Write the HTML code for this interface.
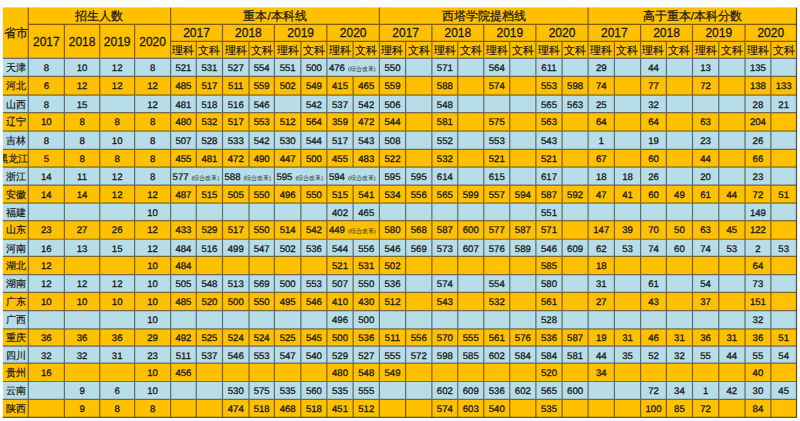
<!DOCTYPE html>
<html><head><meta charset="utf-8"><style>
html,body{margin:0;padding:0;background:#fff;}
body{width:800px;height:421px;position:relative;overflow:hidden;font-family:"Liberation Sans",sans-serif;color:#1a1a1a;}
#w{position:absolute;left:0;top:0;width:800px;height:421px;}
#g,#g2{position:absolute;left:0;top:0;}
#w>div{position:absolute;}
.l{background:rgba(0,0,0,0.45);box-shadow:0 0 0 1px rgba(0,0,0,0.16);}
.t{white-space:nowrap;overflow:hidden;}
.hs{font-size:11.5px;font-weight:500;-webkit-text-stroke:0.25px #1a1a1a;}
.hy{font-size:12px;-webkit-text-stroke:0.3px #1a1a1a;}
.hp{font-size:12px;font-weight:500;-webkit-text-stroke:0.25px #1a1a1a;}
.hk{font-size:11px;font-weight:500;-webkit-text-stroke:0.2px #1a1a1a;}
.pv{font-size:10px;font-weight:500;-webkit-text-stroke:0.2px #1a1a1a;}
.n{font-size:9.6px;text-rendering:geometricPrecision;-webkit-text-stroke:0.3px #1a1a1a;}
.nz{font-size:10px;}
.zn{font-size:9.6px;text-rendering:geometricPrecision;-webkit-text-stroke:0.3px #1a1a1a;padding-left:2px;}
.zg{font-size:5.5px;padding-left:3px;color:#222;}
</style></head><body><svg id="g" width="800" height="421"><rect x="2.85" y="7.4" width="793.65" height="50.9" fill="#FFC000"/><rect x="2.85" y="58.3" width="793.65" height="18.10000000000001" fill="#B7DEE8"/><rect x="2.85" y="76.4" width="793.65" height="18.69999999999999" fill="#FFC000"/><rect x="2.85" y="95.1" width="793.65" height="17.5" fill="#B7DEE8"/><rect x="2.85" y="112.6" width="793.65" height="18.599999999999994" fill="#FFC000"/><rect x="2.85" y="131.2" width="793.65" height="18.100000000000023" fill="#B7DEE8"/><rect x="2.85" y="149.3" width="793.65" height="17.799999999999983" fill="#FFC000"/><rect x="2.85" y="167.1" width="793.65" height="18.0" fill="#B7DEE8"/><rect x="2.85" y="185.1" width="793.65" height="18.0" fill="#FFC000"/><rect x="2.85" y="203.1" width="793.65" height="17.5" fill="#B7DEE8"/><rect x="2.85" y="220.6" width="793.65" height="18.659999999999997" fill="#FFC000"/><rect x="2.85" y="239.26" width="793.65" height="17.04000000000002" fill="#B7DEE8"/><rect x="2.85" y="256.3" width="793.65" height="18.30000000000001" fill="#FFC000"/><rect x="2.85" y="274.6" width="793.65" height="17.799999999999955" fill="#B7DEE8"/><rect x="2.85" y="292.4" width="793.65" height="18.200000000000045" fill="#FFC000"/><rect x="2.85" y="310.6" width="793.65" height="18.19999999999999" fill="#B7DEE8"/><rect x="2.85" y="328.8" width="793.65" height="17.30000000000001" fill="#FFC000"/><rect x="2.85" y="346.1" width="793.65" height="17.0" fill="#B7DEE8"/><rect x="2.85" y="363.1" width="793.65" height="18.399999999999977" fill="#FFC000"/><rect x="2.85" y="381.5" width="793.65" height="17.899999999999977" fill="#B7DEE8"/><rect x="2.85" y="399.4" width="793.65" height="17.900000000000034" fill="#FFC000"/></svg><div id="w">
<div class="t hp" style="left:3.00px;top:8.00px;width:25.30px;height:51.00px;line-height:51.00px;text-align:center;">省市</div>
<div class="t hs" style="left:28.30px;top:8.00px;width:142.30px;height:17.00px;line-height:17.00px;text-align:center;">招生人数</div>
<div class="t hs" style="left:170.60px;top:8.00px;width:208.80px;height:17.00px;line-height:17.00px;text-align:center;">重本/本科线</div>
<div class="t hs" style="left:379.40px;top:8.00px;width:208.70px;height:17.00px;line-height:17.00px;text-align:center;">西塔学院提档线</div>
<div class="t hs" style="left:588.10px;top:8.00px;width:208.40px;height:17.00px;line-height:17.00px;text-align:center;">高于重本/本科分数</div>
<div class="t hy" style="left:28.30px;top:24.50px;width:36.10px;height:34.00px;line-height:34.00px;text-align:center;">2017</div>
<div class="t hy" style="left:64.40px;top:24.50px;width:35.35px;height:34.00px;line-height:34.00px;text-align:center;">2018</div>
<div class="t hy" style="left:99.75px;top:24.50px;width:34.85px;height:34.00px;line-height:34.00px;text-align:center;">2019</div>
<div class="t hy" style="left:134.60px;top:24.50px;width:36.00px;height:34.00px;line-height:34.00px;text-align:center;">2020</div>
<div class="t hy" style="left:170.60px;top:24.50px;width:51.90px;height:17.00px;line-height:17.00px;text-align:center;">2017</div>
<div class="t hk" style="left:170.60px;top:42.00px;width:25.70px;height:17.00px;line-height:17.00px;text-align:center;">理科</div>
<div class="t hk" style="left:196.30px;top:42.00px;width:26.20px;height:17.00px;line-height:17.00px;text-align:center;">文科</div>
<div class="t hy" style="left:222.50px;top:24.50px;width:51.90px;height:17.00px;line-height:17.00px;text-align:center;">2018</div>
<div class="t hk" style="left:222.50px;top:42.00px;width:26.50px;height:17.00px;line-height:17.00px;text-align:center;">理科</div>
<div class="t hk" style="left:249.00px;top:42.00px;width:25.40px;height:17.00px;line-height:17.00px;text-align:center;">文科</div>
<div class="t hy" style="left:274.40px;top:24.50px;width:52.50px;height:17.00px;line-height:17.00px;text-align:center;">2019</div>
<div class="t hk" style="left:274.40px;top:42.00px;width:26.50px;height:17.00px;line-height:17.00px;text-align:center;">理科</div>
<div class="t hk" style="left:300.90px;top:42.00px;width:26.00px;height:17.00px;line-height:17.00px;text-align:center;">文科</div>
<div class="t hy" style="left:326.90px;top:24.50px;width:52.50px;height:17.00px;line-height:17.00px;text-align:center;">2020</div>
<div class="t hk" style="left:326.90px;top:42.00px;width:26.20px;height:17.00px;line-height:17.00px;text-align:center;">理科</div>
<div class="t hk" style="left:353.10px;top:42.00px;width:26.30px;height:17.00px;line-height:17.00px;text-align:center;">文科</div>
<div class="t hy" style="left:379.40px;top:24.50px;width:52.50px;height:17.00px;line-height:17.00px;text-align:center;">2017</div>
<div class="t hk" style="left:379.40px;top:42.00px;width:26.20px;height:17.00px;line-height:17.00px;text-align:center;">理科</div>
<div class="t hk" style="left:405.60px;top:42.00px;width:26.30px;height:17.00px;line-height:17.00px;text-align:center;">文科</div>
<div class="t hy" style="left:431.90px;top:24.50px;width:51.85px;height:17.00px;line-height:17.00px;text-align:center;">2018</div>
<div class="t hk" style="left:431.90px;top:42.00px;width:25.85px;height:17.00px;line-height:17.00px;text-align:center;">理科</div>
<div class="t hk" style="left:457.75px;top:42.00px;width:26.00px;height:17.00px;line-height:17.00px;text-align:center;">文科</div>
<div class="t hy" style="left:483.75px;top:24.50px;width:52.15px;height:17.00px;line-height:17.00px;text-align:center;">2019</div>
<div class="t hk" style="left:483.75px;top:42.00px;width:26.00px;height:17.00px;line-height:17.00px;text-align:center;">理科</div>
<div class="t hk" style="left:509.75px;top:42.00px;width:26.15px;height:17.00px;line-height:17.00px;text-align:center;">文科</div>
<div class="t hy" style="left:535.90px;top:24.50px;width:52.20px;height:17.00px;line-height:17.00px;text-align:center;">2020</div>
<div class="t hk" style="left:535.90px;top:42.00px;width:26.20px;height:17.00px;line-height:17.00px;text-align:center;">理科</div>
<div class="t hk" style="left:562.10px;top:42.00px;width:26.00px;height:17.00px;line-height:17.00px;text-align:center;">文科</div>
<div class="t hy" style="left:588.10px;top:24.50px;width:52.50px;height:17.00px;line-height:17.00px;text-align:center;">2017</div>
<div class="t hk" style="left:588.10px;top:42.00px;width:26.30px;height:17.00px;line-height:17.00px;text-align:center;">理科</div>
<div class="t hk" style="left:614.40px;top:42.00px;width:26.20px;height:17.00px;line-height:17.00px;text-align:center;">文科</div>
<div class="t hy" style="left:640.60px;top:24.50px;width:51.90px;height:17.00px;line-height:17.00px;text-align:center;">2018</div>
<div class="t hk" style="left:640.60px;top:42.00px;width:25.80px;height:17.00px;line-height:17.00px;text-align:center;">理科</div>
<div class="t hk" style="left:666.40px;top:42.00px;width:26.10px;height:17.00px;line-height:17.00px;text-align:center;">文科</div>
<div class="t hy" style="left:692.50px;top:24.50px;width:52.50px;height:17.00px;line-height:17.00px;text-align:center;">2019</div>
<div class="t hk" style="left:692.50px;top:42.00px;width:26.25px;height:17.00px;line-height:17.00px;text-align:center;">理科</div>
<div class="t hk" style="left:718.75px;top:42.00px;width:26.25px;height:17.00px;line-height:17.00px;text-align:center;">文科</div>
<div class="t hy" style="left:745.00px;top:24.50px;width:51.50px;height:17.00px;line-height:17.00px;text-align:center;">2020</div>
<div class="t hk" style="left:745.00px;top:42.00px;width:25.90px;height:17.00px;line-height:17.00px;text-align:center;">理科</div>
<div class="t hk" style="left:770.90px;top:42.00px;width:25.60px;height:17.00px;line-height:17.00px;text-align:center;">文科</div>
<div class="t pv" style="left:3.00px;top:58.80px;width:25.00px;height:18.10px;line-height:18.10px;text-align:center;">天津</div>
<div class="t n" style="left:28.30px;top:59.80px;width:36.10px;height:18.10px;line-height:18.10px;text-align:center;">8</div>
<div class="t n" style="left:64.40px;top:59.80px;width:35.35px;height:18.10px;line-height:18.10px;text-align:center;">10</div>
<div class="t n" style="left:99.75px;top:59.80px;width:34.85px;height:18.10px;line-height:18.10px;text-align:center;">12</div>
<div class="t n" style="left:134.60px;top:59.80px;width:36.00px;height:18.10px;line-height:18.10px;text-align:center;">8</div>
<div class="t n" style="left:170.60px;top:59.80px;width:25.70px;height:18.10px;line-height:18.10px;text-align:center;">521</div>
<div class="t n" style="left:196.30px;top:59.80px;width:26.20px;height:18.10px;line-height:18.10px;text-align:center;">531</div>
<div class="t n" style="left:222.50px;top:59.80px;width:26.50px;height:18.10px;line-height:18.10px;text-align:center;">527</div>
<div class="t n" style="left:249.00px;top:59.80px;width:25.40px;height:18.10px;line-height:18.10px;text-align:center;">554</div>
<div class="t n" style="left:274.40px;top:59.80px;width:26.50px;height:18.10px;line-height:18.10px;text-align:center;">551</div>
<div class="t n" style="left:300.90px;top:59.80px;width:26.00px;height:18.10px;line-height:18.10px;text-align:center;">500</div>
<div class="t nz" style="left:326.90px;top:58.80px;width:52.50px;height:18.10px;line-height:18.10px;text-align:left;"><span class="zn">476</span><span class="zg">(综合改革)</span></div>
<div class="t n" style="left:379.40px;top:59.80px;width:26.20px;height:18.10px;line-height:18.10px;text-align:center;">550</div>
<div class="t n" style="left:431.90px;top:59.80px;width:25.85px;height:18.10px;line-height:18.10px;text-align:center;">571</div>
<div class="t n" style="left:483.75px;top:59.80px;width:26.00px;height:18.10px;line-height:18.10px;text-align:center;">564</div>
<div class="t n" style="left:535.90px;top:59.80px;width:26.20px;height:18.10px;line-height:18.10px;text-align:center;">611</div>
<div class="t n" style="left:588.10px;top:59.80px;width:26.30px;height:18.10px;line-height:18.10px;text-align:center;">29</div>
<div class="t n" style="left:640.60px;top:59.80px;width:25.80px;height:18.10px;line-height:18.10px;text-align:center;">44</div>
<div class="t n" style="left:692.50px;top:59.80px;width:26.25px;height:18.10px;line-height:18.10px;text-align:center;">13</div>
<div class="t n" style="left:745.00px;top:59.80px;width:25.90px;height:18.10px;line-height:18.10px;text-align:center;">135</div>
<div class="t pv" style="left:3.00px;top:76.90px;width:25.00px;height:18.70px;line-height:18.70px;text-align:center;">河北</div>
<div class="t n" style="left:28.30px;top:77.90px;width:36.10px;height:18.70px;line-height:18.70px;text-align:center;">6</div>
<div class="t n" style="left:64.40px;top:77.90px;width:35.35px;height:18.70px;line-height:18.70px;text-align:center;">12</div>
<div class="t n" style="left:99.75px;top:77.90px;width:34.85px;height:18.70px;line-height:18.70px;text-align:center;">12</div>
<div class="t n" style="left:134.60px;top:77.90px;width:36.00px;height:18.70px;line-height:18.70px;text-align:center;">12</div>
<div class="t n" style="left:170.60px;top:77.90px;width:25.70px;height:18.70px;line-height:18.70px;text-align:center;">485</div>
<div class="t n" style="left:196.30px;top:77.90px;width:26.20px;height:18.70px;line-height:18.70px;text-align:center;">517</div>
<div class="t n" style="left:222.50px;top:77.90px;width:26.50px;height:18.70px;line-height:18.70px;text-align:center;">511</div>
<div class="t n" style="left:249.00px;top:77.90px;width:25.40px;height:18.70px;line-height:18.70px;text-align:center;">559</div>
<div class="t n" style="left:274.40px;top:77.90px;width:26.50px;height:18.70px;line-height:18.70px;text-align:center;">502</div>
<div class="t n" style="left:300.90px;top:77.90px;width:26.00px;height:18.70px;line-height:18.70px;text-align:center;">549</div>
<div class="t n" style="left:326.90px;top:77.90px;width:26.20px;height:18.70px;line-height:18.70px;text-align:center;">415</div>
<div class="t n" style="left:353.10px;top:77.90px;width:26.30px;height:18.70px;line-height:18.70px;text-align:center;">465</div>
<div class="t n" style="left:379.40px;top:77.90px;width:26.20px;height:18.70px;line-height:18.70px;text-align:center;">559</div>
<div class="t n" style="left:431.90px;top:77.90px;width:25.85px;height:18.70px;line-height:18.70px;text-align:center;">588</div>
<div class="t n" style="left:483.75px;top:77.90px;width:26.00px;height:18.70px;line-height:18.70px;text-align:center;">574</div>
<div class="t n" style="left:535.90px;top:77.90px;width:26.20px;height:18.70px;line-height:18.70px;text-align:center;">553</div>
<div class="t n" style="left:562.10px;top:77.90px;width:26.00px;height:18.70px;line-height:18.70px;text-align:center;">598</div>
<div class="t n" style="left:588.10px;top:77.90px;width:26.30px;height:18.70px;line-height:18.70px;text-align:center;">74</div>
<div class="t n" style="left:640.60px;top:77.90px;width:25.80px;height:18.70px;line-height:18.70px;text-align:center;">77</div>
<div class="t n" style="left:692.50px;top:77.90px;width:26.25px;height:18.70px;line-height:18.70px;text-align:center;">72</div>
<div class="t n" style="left:745.00px;top:77.90px;width:25.90px;height:18.70px;line-height:18.70px;text-align:center;">138</div>
<div class="t n" style="left:770.90px;top:77.90px;width:25.60px;height:18.70px;line-height:18.70px;text-align:center;">133</div>
<div class="t pv" style="left:3.00px;top:95.60px;width:25.00px;height:17.50px;line-height:17.50px;text-align:center;">山西</div>
<div class="t n" style="left:28.30px;top:96.60px;width:36.10px;height:17.50px;line-height:17.50px;text-align:center;">8</div>
<div class="t n" style="left:64.40px;top:96.60px;width:35.35px;height:17.50px;line-height:17.50px;text-align:center;">15</div>
<div class="t n" style="left:134.60px;top:96.60px;width:36.00px;height:17.50px;line-height:17.50px;text-align:center;">12</div>
<div class="t n" style="left:170.60px;top:96.60px;width:25.70px;height:17.50px;line-height:17.50px;text-align:center;">481</div>
<div class="t n" style="left:196.30px;top:96.60px;width:26.20px;height:17.50px;line-height:17.50px;text-align:center;">518</div>
<div class="t n" style="left:222.50px;top:96.60px;width:26.50px;height:17.50px;line-height:17.50px;text-align:center;">516</div>
<div class="t n" style="left:249.00px;top:96.60px;width:25.40px;height:17.50px;line-height:17.50px;text-align:center;">546</div>
<div class="t n" style="left:300.90px;top:96.60px;width:26.00px;height:17.50px;line-height:17.50px;text-align:center;">542</div>
<div class="t n" style="left:326.90px;top:96.60px;width:26.20px;height:17.50px;line-height:17.50px;text-align:center;">537</div>
<div class="t n" style="left:353.10px;top:96.60px;width:26.30px;height:17.50px;line-height:17.50px;text-align:center;">542</div>
<div class="t n" style="left:379.40px;top:96.60px;width:26.20px;height:17.50px;line-height:17.50px;text-align:center;">506</div>
<div class="t n" style="left:431.90px;top:96.60px;width:25.85px;height:17.50px;line-height:17.50px;text-align:center;">548</div>
<div class="t n" style="left:535.90px;top:96.60px;width:26.20px;height:17.50px;line-height:17.50px;text-align:center;">565</div>
<div class="t n" style="left:562.10px;top:96.60px;width:26.00px;height:17.50px;line-height:17.50px;text-align:center;">563</div>
<div class="t n" style="left:588.10px;top:96.60px;width:26.30px;height:17.50px;line-height:17.50px;text-align:center;">25</div>
<div class="t n" style="left:640.60px;top:96.60px;width:25.80px;height:17.50px;line-height:17.50px;text-align:center;">32</div>
<div class="t n" style="left:745.00px;top:96.60px;width:25.90px;height:17.50px;line-height:17.50px;text-align:center;">28</div>
<div class="t n" style="left:770.90px;top:96.60px;width:25.60px;height:17.50px;line-height:17.50px;text-align:center;">21</div>
<div class="t pv" style="left:3.00px;top:113.10px;width:25.00px;height:18.60px;line-height:18.60px;text-align:center;">辽宁</div>
<div class="t n" style="left:28.30px;top:114.10px;width:36.10px;height:18.60px;line-height:18.60px;text-align:center;">10</div>
<div class="t n" style="left:64.40px;top:114.10px;width:35.35px;height:18.60px;line-height:18.60px;text-align:center;">8</div>
<div class="t n" style="left:99.75px;top:114.10px;width:34.85px;height:18.60px;line-height:18.60px;text-align:center;">8</div>
<div class="t n" style="left:134.60px;top:114.10px;width:36.00px;height:18.60px;line-height:18.60px;text-align:center;">8</div>
<div class="t n" style="left:170.60px;top:114.10px;width:25.70px;height:18.60px;line-height:18.60px;text-align:center;">480</div>
<div class="t n" style="left:196.30px;top:114.10px;width:26.20px;height:18.60px;line-height:18.60px;text-align:center;">532</div>
<div class="t n" style="left:222.50px;top:114.10px;width:26.50px;height:18.60px;line-height:18.60px;text-align:center;">517</div>
<div class="t n" style="left:249.00px;top:114.10px;width:25.40px;height:18.60px;line-height:18.60px;text-align:center;">553</div>
<div class="t n" style="left:274.40px;top:114.10px;width:26.50px;height:18.60px;line-height:18.60px;text-align:center;">512</div>
<div class="t n" style="left:300.90px;top:114.10px;width:26.00px;height:18.60px;line-height:18.60px;text-align:center;">564</div>
<div class="t n" style="left:326.90px;top:114.10px;width:26.20px;height:18.60px;line-height:18.60px;text-align:center;">359</div>
<div class="t n" style="left:353.10px;top:114.10px;width:26.30px;height:18.60px;line-height:18.60px;text-align:center;">472</div>
<div class="t n" style="left:379.40px;top:114.10px;width:26.20px;height:18.60px;line-height:18.60px;text-align:center;">544</div>
<div class="t n" style="left:431.90px;top:114.10px;width:25.85px;height:18.60px;line-height:18.60px;text-align:center;">581</div>
<div class="t n" style="left:483.75px;top:114.10px;width:26.00px;height:18.60px;line-height:18.60px;text-align:center;">575</div>
<div class="t n" style="left:535.90px;top:114.10px;width:26.20px;height:18.60px;line-height:18.60px;text-align:center;">563</div>
<div class="t n" style="left:588.10px;top:114.10px;width:26.30px;height:18.60px;line-height:18.60px;text-align:center;">64</div>
<div class="t n" style="left:640.60px;top:114.10px;width:25.80px;height:18.60px;line-height:18.60px;text-align:center;">64</div>
<div class="t n" style="left:692.50px;top:114.10px;width:26.25px;height:18.60px;line-height:18.60px;text-align:center;">63</div>
<div class="t n" style="left:745.00px;top:114.10px;width:25.90px;height:18.60px;line-height:18.60px;text-align:center;">204</div>
<div class="t pv" style="left:3.00px;top:131.70px;width:25.00px;height:18.10px;line-height:18.10px;text-align:center;">吉林</div>
<div class="t n" style="left:28.30px;top:132.70px;width:36.10px;height:18.10px;line-height:18.10px;text-align:center;">8</div>
<div class="t n" style="left:64.40px;top:132.70px;width:35.35px;height:18.10px;line-height:18.10px;text-align:center;">8</div>
<div class="t n" style="left:99.75px;top:132.70px;width:34.85px;height:18.10px;line-height:18.10px;text-align:center;">10</div>
<div class="t n" style="left:134.60px;top:132.70px;width:36.00px;height:18.10px;line-height:18.10px;text-align:center;">8</div>
<div class="t n" style="left:170.60px;top:132.70px;width:25.70px;height:18.10px;line-height:18.10px;text-align:center;">507</div>
<div class="t n" style="left:196.30px;top:132.70px;width:26.20px;height:18.10px;line-height:18.10px;text-align:center;">528</div>
<div class="t n" style="left:222.50px;top:132.70px;width:26.50px;height:18.10px;line-height:18.10px;text-align:center;">533</div>
<div class="t n" style="left:249.00px;top:132.70px;width:25.40px;height:18.10px;line-height:18.10px;text-align:center;">542</div>
<div class="t n" style="left:274.40px;top:132.70px;width:26.50px;height:18.10px;line-height:18.10px;text-align:center;">530</div>
<div class="t n" style="left:300.90px;top:132.70px;width:26.00px;height:18.10px;line-height:18.10px;text-align:center;">544</div>
<div class="t n" style="left:326.90px;top:132.70px;width:26.20px;height:18.10px;line-height:18.10px;text-align:center;">517</div>
<div class="t n" style="left:353.10px;top:132.70px;width:26.30px;height:18.10px;line-height:18.10px;text-align:center;">543</div>
<div class="t n" style="left:379.40px;top:132.70px;width:26.20px;height:18.10px;line-height:18.10px;text-align:center;">508</div>
<div class="t n" style="left:431.90px;top:132.70px;width:25.85px;height:18.10px;line-height:18.10px;text-align:center;">552</div>
<div class="t n" style="left:483.75px;top:132.70px;width:26.00px;height:18.10px;line-height:18.10px;text-align:center;">553</div>
<div class="t n" style="left:535.90px;top:132.70px;width:26.20px;height:18.10px;line-height:18.10px;text-align:center;">543</div>
<div class="t n" style="left:588.10px;top:132.70px;width:26.30px;height:18.10px;line-height:18.10px;text-align:center;">1</div>
<div class="t n" style="left:640.60px;top:132.70px;width:25.80px;height:18.10px;line-height:18.10px;text-align:center;">19</div>
<div class="t n" style="left:692.50px;top:132.70px;width:26.25px;height:18.10px;line-height:18.10px;text-align:center;">23</div>
<div class="t n" style="left:745.00px;top:132.70px;width:25.90px;height:18.10px;line-height:18.10px;text-align:center;">26</div>
<div class="t pv" style="left:3.00px;top:149.80px;width:25.00px;height:17.80px;line-height:17.80px;text-align:right;display:flex;justify-content:flex-end;">黑龙江</div>
<div class="t n" style="left:28.30px;top:150.80px;width:36.10px;height:17.80px;line-height:17.80px;text-align:center;">5</div>
<div class="t n" style="left:64.40px;top:150.80px;width:35.35px;height:17.80px;line-height:17.80px;text-align:center;">8</div>
<div class="t n" style="left:99.75px;top:150.80px;width:34.85px;height:17.80px;line-height:17.80px;text-align:center;">8</div>
<div class="t n" style="left:134.60px;top:150.80px;width:36.00px;height:17.80px;line-height:17.80px;text-align:center;">8</div>
<div class="t n" style="left:170.60px;top:150.80px;width:25.70px;height:17.80px;line-height:17.80px;text-align:center;">455</div>
<div class="t n" style="left:196.30px;top:150.80px;width:26.20px;height:17.80px;line-height:17.80px;text-align:center;">481</div>
<div class="t n" style="left:222.50px;top:150.80px;width:26.50px;height:17.80px;line-height:17.80px;text-align:center;">472</div>
<div class="t n" style="left:249.00px;top:150.80px;width:25.40px;height:17.80px;line-height:17.80px;text-align:center;">490</div>
<div class="t n" style="left:274.40px;top:150.80px;width:26.50px;height:17.80px;line-height:17.80px;text-align:center;">447</div>
<div class="t n" style="left:300.90px;top:150.80px;width:26.00px;height:17.80px;line-height:17.80px;text-align:center;">500</div>
<div class="t n" style="left:326.90px;top:150.80px;width:26.20px;height:17.80px;line-height:17.80px;text-align:center;">455</div>
<div class="t n" style="left:353.10px;top:150.80px;width:26.30px;height:17.80px;line-height:17.80px;text-align:center;">483</div>
<div class="t n" style="left:379.40px;top:150.80px;width:26.20px;height:17.80px;line-height:17.80px;text-align:center;">522</div>
<div class="t n" style="left:431.90px;top:150.80px;width:25.85px;height:17.80px;line-height:17.80px;text-align:center;">532</div>
<div class="t n" style="left:483.75px;top:150.80px;width:26.00px;height:17.80px;line-height:17.80px;text-align:center;">521</div>
<div class="t n" style="left:535.90px;top:150.80px;width:26.20px;height:17.80px;line-height:17.80px;text-align:center;">521</div>
<div class="t n" style="left:588.10px;top:150.80px;width:26.30px;height:17.80px;line-height:17.80px;text-align:center;">67</div>
<div class="t n" style="left:640.60px;top:150.80px;width:25.80px;height:17.80px;line-height:17.80px;text-align:center;">60</div>
<div class="t n" style="left:692.50px;top:150.80px;width:26.25px;height:17.80px;line-height:17.80px;text-align:center;">44</div>
<div class="t n" style="left:745.00px;top:150.80px;width:25.90px;height:17.80px;line-height:17.80px;text-align:center;">66</div>
<div class="t pv" style="left:3.00px;top:167.60px;width:25.00px;height:18.00px;line-height:18.00px;text-align:center;">浙江</div>
<div class="t n" style="left:28.30px;top:168.60px;width:36.10px;height:18.00px;line-height:18.00px;text-align:center;">14</div>
<div class="t n" style="left:64.40px;top:168.60px;width:35.35px;height:18.00px;line-height:18.00px;text-align:center;">11</div>
<div class="t n" style="left:99.75px;top:168.60px;width:34.85px;height:18.00px;line-height:18.00px;text-align:center;">12</div>
<div class="t n" style="left:134.60px;top:168.60px;width:36.00px;height:18.00px;line-height:18.00px;text-align:center;">8</div>
<div class="t nz" style="left:170.60px;top:167.60px;width:51.90px;height:18.00px;line-height:18.00px;text-align:left;"><span class="zn">577</span><span class="zg">(综合改革)</span></div>
<div class="t nz" style="left:222.50px;top:167.60px;width:51.90px;height:18.00px;line-height:18.00px;text-align:left;"><span class="zn">588</span><span class="zg">(综合改革)</span></div>
<div class="t nz" style="left:274.40px;top:167.60px;width:52.50px;height:18.00px;line-height:18.00px;text-align:left;"><span class="zn">595</span><span class="zg">(综合改革)</span></div>
<div class="t nz" style="left:326.90px;top:167.60px;width:52.50px;height:18.00px;line-height:18.00px;text-align:left;"><span class="zn">594</span><span class="zg">(综合改革)</span></div>
<div class="t n" style="left:379.40px;top:168.60px;width:26.20px;height:18.00px;line-height:18.00px;text-align:center;">595</div>
<div class="t n" style="left:405.60px;top:168.60px;width:26.30px;height:18.00px;line-height:18.00px;text-align:center;">595</div>
<div class="t n" style="left:431.90px;top:168.60px;width:25.85px;height:18.00px;line-height:18.00px;text-align:center;">614</div>
<div class="t n" style="left:483.75px;top:168.60px;width:26.00px;height:18.00px;line-height:18.00px;text-align:center;">615</div>
<div class="t n" style="left:535.90px;top:168.60px;width:26.20px;height:18.00px;line-height:18.00px;text-align:center;">617</div>
<div class="t n" style="left:588.10px;top:168.60px;width:26.30px;height:18.00px;line-height:18.00px;text-align:center;">18</div>
<div class="t n" style="left:614.40px;top:168.60px;width:26.20px;height:18.00px;line-height:18.00px;text-align:center;">18</div>
<div class="t n" style="left:640.60px;top:168.60px;width:25.80px;height:18.00px;line-height:18.00px;text-align:center;">26</div>
<div class="t n" style="left:692.50px;top:168.60px;width:26.25px;height:18.00px;line-height:18.00px;text-align:center;">20</div>
<div class="t n" style="left:745.00px;top:168.60px;width:25.90px;height:18.00px;line-height:18.00px;text-align:center;">23</div>
<div class="t pv" style="left:3.00px;top:185.60px;width:25.00px;height:18.00px;line-height:18.00px;text-align:center;">安徽</div>
<div class="t n" style="left:28.30px;top:186.60px;width:36.10px;height:18.00px;line-height:18.00px;text-align:center;">14</div>
<div class="t n" style="left:64.40px;top:186.60px;width:35.35px;height:18.00px;line-height:18.00px;text-align:center;">14</div>
<div class="t n" style="left:99.75px;top:186.60px;width:34.85px;height:18.00px;line-height:18.00px;text-align:center;">12</div>
<div class="t n" style="left:134.60px;top:186.60px;width:36.00px;height:18.00px;line-height:18.00px;text-align:center;">12</div>
<div class="t n" style="left:170.60px;top:186.60px;width:25.70px;height:18.00px;line-height:18.00px;text-align:center;">487</div>
<div class="t n" style="left:196.30px;top:186.60px;width:26.20px;height:18.00px;line-height:18.00px;text-align:center;">515</div>
<div class="t n" style="left:222.50px;top:186.60px;width:26.50px;height:18.00px;line-height:18.00px;text-align:center;">505</div>
<div class="t n" style="left:249.00px;top:186.60px;width:25.40px;height:18.00px;line-height:18.00px;text-align:center;">550</div>
<div class="t n" style="left:274.40px;top:186.60px;width:26.50px;height:18.00px;line-height:18.00px;text-align:center;">496</div>
<div class="t n" style="left:300.90px;top:186.60px;width:26.00px;height:18.00px;line-height:18.00px;text-align:center;">550</div>
<div class="t n" style="left:326.90px;top:186.60px;width:26.20px;height:18.00px;line-height:18.00px;text-align:center;">515</div>
<div class="t n" style="left:353.10px;top:186.60px;width:26.30px;height:18.00px;line-height:18.00px;text-align:center;">541</div>
<div class="t n" style="left:379.40px;top:186.60px;width:26.20px;height:18.00px;line-height:18.00px;text-align:center;">534</div>
<div class="t n" style="left:405.60px;top:186.60px;width:26.30px;height:18.00px;line-height:18.00px;text-align:center;">556</div>
<div class="t n" style="left:431.90px;top:186.60px;width:25.85px;height:18.00px;line-height:18.00px;text-align:center;">565</div>
<div class="t n" style="left:457.75px;top:186.60px;width:26.00px;height:18.00px;line-height:18.00px;text-align:center;">599</div>
<div class="t n" style="left:483.75px;top:186.60px;width:26.00px;height:18.00px;line-height:18.00px;text-align:center;">557</div>
<div class="t n" style="left:509.75px;top:186.60px;width:26.15px;height:18.00px;line-height:18.00px;text-align:center;">594</div>
<div class="t n" style="left:535.90px;top:186.60px;width:26.20px;height:18.00px;line-height:18.00px;text-align:center;">587</div>
<div class="t n" style="left:562.10px;top:186.60px;width:26.00px;height:18.00px;line-height:18.00px;text-align:center;">592</div>
<div class="t n" style="left:588.10px;top:186.60px;width:26.30px;height:18.00px;line-height:18.00px;text-align:center;">47</div>
<div class="t n" style="left:614.40px;top:186.60px;width:26.20px;height:18.00px;line-height:18.00px;text-align:center;">41</div>
<div class="t n" style="left:640.60px;top:186.60px;width:25.80px;height:18.00px;line-height:18.00px;text-align:center;">60</div>
<div class="t n" style="left:666.40px;top:186.60px;width:26.10px;height:18.00px;line-height:18.00px;text-align:center;">49</div>
<div class="t n" style="left:692.50px;top:186.60px;width:26.25px;height:18.00px;line-height:18.00px;text-align:center;">61</div>
<div class="t n" style="left:718.75px;top:186.60px;width:26.25px;height:18.00px;line-height:18.00px;text-align:center;">44</div>
<div class="t n" style="left:745.00px;top:186.60px;width:25.90px;height:18.00px;line-height:18.00px;text-align:center;">72</div>
<div class="t n" style="left:770.90px;top:186.60px;width:25.60px;height:18.00px;line-height:18.00px;text-align:center;">51</div>
<div class="t pv" style="left:3.00px;top:203.60px;width:25.00px;height:17.50px;line-height:17.50px;text-align:center;">福建</div>
<div class="t n" style="left:134.60px;top:204.60px;width:36.00px;height:17.50px;line-height:17.50px;text-align:center;">10</div>
<div class="t n" style="left:326.90px;top:204.60px;width:26.20px;height:17.50px;line-height:17.50px;text-align:center;">402</div>
<div class="t n" style="left:353.10px;top:204.60px;width:26.30px;height:17.50px;line-height:17.50px;text-align:center;">465</div>
<div class="t n" style="left:535.90px;top:204.60px;width:26.20px;height:17.50px;line-height:17.50px;text-align:center;">551</div>
<div class="t n" style="left:745.00px;top:204.60px;width:25.90px;height:17.50px;line-height:17.50px;text-align:center;">149</div>
<div class="t pv" style="left:3.00px;top:221.10px;width:25.00px;height:18.66px;line-height:18.66px;text-align:center;">山东</div>
<div class="t n" style="left:28.30px;top:222.10px;width:36.10px;height:18.66px;line-height:18.66px;text-align:center;">23</div>
<div class="t n" style="left:64.40px;top:222.10px;width:35.35px;height:18.66px;line-height:18.66px;text-align:center;">27</div>
<div class="t n" style="left:99.75px;top:222.10px;width:34.85px;height:18.66px;line-height:18.66px;text-align:center;">26</div>
<div class="t n" style="left:134.60px;top:222.10px;width:36.00px;height:18.66px;line-height:18.66px;text-align:center;">12</div>
<div class="t n" style="left:170.60px;top:222.10px;width:25.70px;height:18.66px;line-height:18.66px;text-align:center;">433</div>
<div class="t n" style="left:196.30px;top:222.10px;width:26.20px;height:18.66px;line-height:18.66px;text-align:center;">529</div>
<div class="t n" style="left:222.50px;top:222.10px;width:26.50px;height:18.66px;line-height:18.66px;text-align:center;">517</div>
<div class="t n" style="left:249.00px;top:222.10px;width:25.40px;height:18.66px;line-height:18.66px;text-align:center;">550</div>
<div class="t n" style="left:274.40px;top:222.10px;width:26.50px;height:18.66px;line-height:18.66px;text-align:center;">514</div>
<div class="t n" style="left:300.90px;top:222.10px;width:26.00px;height:18.66px;line-height:18.66px;text-align:center;">542</div>
<div class="t nz" style="left:326.90px;top:221.10px;width:52.50px;height:18.66px;line-height:18.66px;text-align:left;"><span class="zn">449</span><span class="zg">(综合改革)</span></div>
<div class="t n" style="left:379.40px;top:222.10px;width:26.20px;height:18.66px;line-height:18.66px;text-align:center;">580</div>
<div class="t n" style="left:405.60px;top:222.10px;width:26.30px;height:18.66px;line-height:18.66px;text-align:center;">568</div>
<div class="t n" style="left:431.90px;top:222.10px;width:25.85px;height:18.66px;line-height:18.66px;text-align:center;">587</div>
<div class="t n" style="left:457.75px;top:222.10px;width:26.00px;height:18.66px;line-height:18.66px;text-align:center;">600</div>
<div class="t n" style="left:483.75px;top:222.10px;width:26.00px;height:18.66px;line-height:18.66px;text-align:center;">577</div>
<div class="t n" style="left:509.75px;top:222.10px;width:26.15px;height:18.66px;line-height:18.66px;text-align:center;">587</div>
<div class="t n" style="left:535.90px;top:222.10px;width:26.20px;height:18.66px;line-height:18.66px;text-align:center;">571</div>
<div class="t n" style="left:588.10px;top:222.10px;width:26.30px;height:18.66px;line-height:18.66px;text-align:center;">147</div>
<div class="t n" style="left:614.40px;top:222.10px;width:26.20px;height:18.66px;line-height:18.66px;text-align:center;">39</div>
<div class="t n" style="left:640.60px;top:222.10px;width:25.80px;height:18.66px;line-height:18.66px;text-align:center;">70</div>
<div class="t n" style="left:666.40px;top:222.10px;width:26.10px;height:18.66px;line-height:18.66px;text-align:center;">50</div>
<div class="t n" style="left:692.50px;top:222.10px;width:26.25px;height:18.66px;line-height:18.66px;text-align:center;">63</div>
<div class="t n" style="left:718.75px;top:222.10px;width:26.25px;height:18.66px;line-height:18.66px;text-align:center;">45</div>
<div class="t n" style="left:745.00px;top:222.10px;width:25.90px;height:18.66px;line-height:18.66px;text-align:center;">122</div>
<div class="t pv" style="left:3.00px;top:239.76px;width:25.00px;height:17.04px;line-height:17.04px;text-align:center;">河南</div>
<div class="t n" style="left:28.30px;top:240.76px;width:36.10px;height:17.04px;line-height:17.04px;text-align:center;">16</div>
<div class="t n" style="left:64.40px;top:240.76px;width:35.35px;height:17.04px;line-height:17.04px;text-align:center;">13</div>
<div class="t n" style="left:99.75px;top:240.76px;width:34.85px;height:17.04px;line-height:17.04px;text-align:center;">15</div>
<div class="t n" style="left:134.60px;top:240.76px;width:36.00px;height:17.04px;line-height:17.04px;text-align:center;">12</div>
<div class="t n" style="left:170.60px;top:240.76px;width:25.70px;height:17.04px;line-height:17.04px;text-align:center;">484</div>
<div class="t n" style="left:196.30px;top:240.76px;width:26.20px;height:17.04px;line-height:17.04px;text-align:center;">516</div>
<div class="t n" style="left:222.50px;top:240.76px;width:26.50px;height:17.04px;line-height:17.04px;text-align:center;">499</div>
<div class="t n" style="left:249.00px;top:240.76px;width:25.40px;height:17.04px;line-height:17.04px;text-align:center;">547</div>
<div class="t n" style="left:274.40px;top:240.76px;width:26.50px;height:17.04px;line-height:17.04px;text-align:center;">502</div>
<div class="t n" style="left:300.90px;top:240.76px;width:26.00px;height:17.04px;line-height:17.04px;text-align:center;">536</div>
<div class="t n" style="left:326.90px;top:240.76px;width:26.20px;height:17.04px;line-height:17.04px;text-align:center;">544</div>
<div class="t n" style="left:353.10px;top:240.76px;width:26.30px;height:17.04px;line-height:17.04px;text-align:center;">556</div>
<div class="t n" style="left:379.40px;top:240.76px;width:26.20px;height:17.04px;line-height:17.04px;text-align:center;">546</div>
<div class="t n" style="left:405.60px;top:240.76px;width:26.30px;height:17.04px;line-height:17.04px;text-align:center;">569</div>
<div class="t n" style="left:431.90px;top:240.76px;width:25.85px;height:17.04px;line-height:17.04px;text-align:center;">573</div>
<div class="t n" style="left:457.75px;top:240.76px;width:26.00px;height:17.04px;line-height:17.04px;text-align:center;">607</div>
<div class="t n" style="left:483.75px;top:240.76px;width:26.00px;height:17.04px;line-height:17.04px;text-align:center;">576</div>
<div class="t n" style="left:509.75px;top:240.76px;width:26.15px;height:17.04px;line-height:17.04px;text-align:center;">589</div>
<div class="t n" style="left:535.90px;top:240.76px;width:26.20px;height:17.04px;line-height:17.04px;text-align:center;">546</div>
<div class="t n" style="left:562.10px;top:240.76px;width:26.00px;height:17.04px;line-height:17.04px;text-align:center;">609</div>
<div class="t n" style="left:588.10px;top:240.76px;width:26.30px;height:17.04px;line-height:17.04px;text-align:center;">62</div>
<div class="t n" style="left:614.40px;top:240.76px;width:26.20px;height:17.04px;line-height:17.04px;text-align:center;">53</div>
<div class="t n" style="left:640.60px;top:240.76px;width:25.80px;height:17.04px;line-height:17.04px;text-align:center;">74</div>
<div class="t n" style="left:666.40px;top:240.76px;width:26.10px;height:17.04px;line-height:17.04px;text-align:center;">60</div>
<div class="t n" style="left:692.50px;top:240.76px;width:26.25px;height:17.04px;line-height:17.04px;text-align:center;">74</div>
<div class="t n" style="left:718.75px;top:240.76px;width:26.25px;height:17.04px;line-height:17.04px;text-align:center;">53</div>
<div class="t n" style="left:745.00px;top:240.76px;width:25.90px;height:17.04px;line-height:17.04px;text-align:center;">2</div>
<div class="t n" style="left:770.90px;top:240.76px;width:25.60px;height:17.04px;line-height:17.04px;text-align:center;">53</div>
<div class="t pv" style="left:3.00px;top:256.80px;width:25.00px;height:18.30px;line-height:18.30px;text-align:center;">湖北</div>
<div class="t n" style="left:28.30px;top:257.80px;width:36.10px;height:18.30px;line-height:18.30px;text-align:center;">12</div>
<div class="t n" style="left:134.60px;top:257.80px;width:36.00px;height:18.30px;line-height:18.30px;text-align:center;">10</div>
<div class="t n" style="left:170.60px;top:257.80px;width:25.70px;height:18.30px;line-height:18.30px;text-align:center;">484</div>
<div class="t n" style="left:326.90px;top:257.80px;width:26.20px;height:18.30px;line-height:18.30px;text-align:center;">521</div>
<div class="t n" style="left:353.10px;top:257.80px;width:26.30px;height:18.30px;line-height:18.30px;text-align:center;">531</div>
<div class="t n" style="left:379.40px;top:257.80px;width:26.20px;height:18.30px;line-height:18.30px;text-align:center;">502</div>
<div class="t n" style="left:535.90px;top:257.80px;width:26.20px;height:18.30px;line-height:18.30px;text-align:center;">585</div>
<div class="t n" style="left:588.10px;top:257.80px;width:26.30px;height:18.30px;line-height:18.30px;text-align:center;">18</div>
<div class="t n" style="left:745.00px;top:257.80px;width:25.90px;height:18.30px;line-height:18.30px;text-align:center;">64</div>
<div class="t pv" style="left:3.00px;top:275.10px;width:25.00px;height:17.80px;line-height:17.80px;text-align:center;">湖南</div>
<div class="t n" style="left:28.30px;top:276.10px;width:36.10px;height:17.80px;line-height:17.80px;text-align:center;">12</div>
<div class="t n" style="left:64.40px;top:276.10px;width:35.35px;height:17.80px;line-height:17.80px;text-align:center;">12</div>
<div class="t n" style="left:99.75px;top:276.10px;width:34.85px;height:17.80px;line-height:17.80px;text-align:center;">12</div>
<div class="t n" style="left:134.60px;top:276.10px;width:36.00px;height:17.80px;line-height:17.80px;text-align:center;">10</div>
<div class="t n" style="left:170.60px;top:276.10px;width:25.70px;height:17.80px;line-height:17.80px;text-align:center;">505</div>
<div class="t n" style="left:196.30px;top:276.10px;width:26.20px;height:17.80px;line-height:17.80px;text-align:center;">548</div>
<div class="t n" style="left:222.50px;top:276.10px;width:26.50px;height:17.80px;line-height:17.80px;text-align:center;">513</div>
<div class="t n" style="left:249.00px;top:276.10px;width:25.40px;height:17.80px;line-height:17.80px;text-align:center;">569</div>
<div class="t n" style="left:274.40px;top:276.10px;width:26.50px;height:17.80px;line-height:17.80px;text-align:center;">500</div>
<div class="t n" style="left:300.90px;top:276.10px;width:26.00px;height:17.80px;line-height:17.80px;text-align:center;">553</div>
<div class="t n" style="left:326.90px;top:276.10px;width:26.20px;height:17.80px;line-height:17.80px;text-align:center;">507</div>
<div class="t n" style="left:353.10px;top:276.10px;width:26.30px;height:17.80px;line-height:17.80px;text-align:center;">550</div>
<div class="t n" style="left:379.40px;top:276.10px;width:26.20px;height:17.80px;line-height:17.80px;text-align:center;">536</div>
<div class="t n" style="left:431.90px;top:276.10px;width:25.85px;height:17.80px;line-height:17.80px;text-align:center;">574</div>
<div class="t n" style="left:483.75px;top:276.10px;width:26.00px;height:17.80px;line-height:17.80px;text-align:center;">554</div>
<div class="t n" style="left:535.90px;top:276.10px;width:26.20px;height:17.80px;line-height:17.80px;text-align:center;">580</div>
<div class="t n" style="left:588.10px;top:276.10px;width:26.30px;height:17.80px;line-height:17.80px;text-align:center;">31</div>
<div class="t n" style="left:640.60px;top:276.10px;width:25.80px;height:17.80px;line-height:17.80px;text-align:center;">61</div>
<div class="t n" style="left:692.50px;top:276.10px;width:26.25px;height:17.80px;line-height:17.80px;text-align:center;">54</div>
<div class="t n" style="left:745.00px;top:276.10px;width:25.90px;height:17.80px;line-height:17.80px;text-align:center;">73</div>
<div class="t pv" style="left:3.00px;top:292.90px;width:25.00px;height:18.20px;line-height:18.20px;text-align:center;">广东</div>
<div class="t n" style="left:28.30px;top:293.90px;width:36.10px;height:18.20px;line-height:18.20px;text-align:center;">10</div>
<div class="t n" style="left:64.40px;top:293.90px;width:35.35px;height:18.20px;line-height:18.20px;text-align:center;">10</div>
<div class="t n" style="left:99.75px;top:293.90px;width:34.85px;height:18.20px;line-height:18.20px;text-align:center;">10</div>
<div class="t n" style="left:134.60px;top:293.90px;width:36.00px;height:18.20px;line-height:18.20px;text-align:center;">10</div>
<div class="t n" style="left:170.60px;top:293.90px;width:25.70px;height:18.20px;line-height:18.20px;text-align:center;">485</div>
<div class="t n" style="left:196.30px;top:293.90px;width:26.20px;height:18.20px;line-height:18.20px;text-align:center;">520</div>
<div class="t n" style="left:222.50px;top:293.90px;width:26.50px;height:18.20px;line-height:18.20px;text-align:center;">500</div>
<div class="t n" style="left:249.00px;top:293.90px;width:25.40px;height:18.20px;line-height:18.20px;text-align:center;">550</div>
<div class="t n" style="left:274.40px;top:293.90px;width:26.50px;height:18.20px;line-height:18.20px;text-align:center;">495</div>
<div class="t n" style="left:300.90px;top:293.90px;width:26.00px;height:18.20px;line-height:18.20px;text-align:center;">546</div>
<div class="t n" style="left:326.90px;top:293.90px;width:26.20px;height:18.20px;line-height:18.20px;text-align:center;">410</div>
<div class="t n" style="left:353.10px;top:293.90px;width:26.30px;height:18.20px;line-height:18.20px;text-align:center;">430</div>
<div class="t n" style="left:379.40px;top:293.90px;width:26.20px;height:18.20px;line-height:18.20px;text-align:center;">512</div>
<div class="t n" style="left:431.90px;top:293.90px;width:25.85px;height:18.20px;line-height:18.20px;text-align:center;">543</div>
<div class="t n" style="left:483.75px;top:293.90px;width:26.00px;height:18.20px;line-height:18.20px;text-align:center;">532</div>
<div class="t n" style="left:535.90px;top:293.90px;width:26.20px;height:18.20px;line-height:18.20px;text-align:center;">561</div>
<div class="t n" style="left:588.10px;top:293.90px;width:26.30px;height:18.20px;line-height:18.20px;text-align:center;">27</div>
<div class="t n" style="left:640.60px;top:293.90px;width:25.80px;height:18.20px;line-height:18.20px;text-align:center;">43</div>
<div class="t n" style="left:692.50px;top:293.90px;width:26.25px;height:18.20px;line-height:18.20px;text-align:center;">37</div>
<div class="t n" style="left:745.00px;top:293.90px;width:25.90px;height:18.20px;line-height:18.20px;text-align:center;">151</div>
<div class="t pv" style="left:3.00px;top:311.10px;width:25.00px;height:18.20px;line-height:18.20px;text-align:center;">广西</div>
<div class="t n" style="left:134.60px;top:312.10px;width:36.00px;height:18.20px;line-height:18.20px;text-align:center;">10</div>
<div class="t n" style="left:326.90px;top:312.10px;width:26.20px;height:18.20px;line-height:18.20px;text-align:center;">496</div>
<div class="t n" style="left:353.10px;top:312.10px;width:26.30px;height:18.20px;line-height:18.20px;text-align:center;">500</div>
<div class="t n" style="left:535.90px;top:312.10px;width:26.20px;height:18.20px;line-height:18.20px;text-align:center;">528</div>
<div class="t n" style="left:745.00px;top:312.10px;width:25.90px;height:18.20px;line-height:18.20px;text-align:center;">32</div>
<div class="t pv" style="left:3.00px;top:329.30px;width:25.00px;height:17.30px;line-height:17.30px;text-align:center;">重庆</div>
<div class="t n" style="left:28.30px;top:330.30px;width:36.10px;height:17.30px;line-height:17.30px;text-align:center;">36</div>
<div class="t n" style="left:64.40px;top:330.30px;width:35.35px;height:17.30px;line-height:17.30px;text-align:center;">36</div>
<div class="t n" style="left:99.75px;top:330.30px;width:34.85px;height:17.30px;line-height:17.30px;text-align:center;">36</div>
<div class="t n" style="left:134.60px;top:330.30px;width:36.00px;height:17.30px;line-height:17.30px;text-align:center;">29</div>
<div class="t n" style="left:170.60px;top:330.30px;width:25.70px;height:17.30px;line-height:17.30px;text-align:center;">492</div>
<div class="t n" style="left:196.30px;top:330.30px;width:26.20px;height:17.30px;line-height:17.30px;text-align:center;">525</div>
<div class="t n" style="left:222.50px;top:330.30px;width:26.50px;height:17.30px;line-height:17.30px;text-align:center;">524</div>
<div class="t n" style="left:249.00px;top:330.30px;width:25.40px;height:17.30px;line-height:17.30px;text-align:center;">524</div>
<div class="t n" style="left:274.40px;top:330.30px;width:26.50px;height:17.30px;line-height:17.30px;text-align:center;">525</div>
<div class="t n" style="left:300.90px;top:330.30px;width:26.00px;height:17.30px;line-height:17.30px;text-align:center;">545</div>
<div class="t n" style="left:326.90px;top:330.30px;width:26.20px;height:17.30px;line-height:17.30px;text-align:center;">500</div>
<div class="t n" style="left:353.10px;top:330.30px;width:26.30px;height:17.30px;line-height:17.30px;text-align:center;">536</div>
<div class="t n" style="left:379.40px;top:330.30px;width:26.20px;height:17.30px;line-height:17.30px;text-align:center;">511</div>
<div class="t n" style="left:405.60px;top:330.30px;width:26.30px;height:17.30px;line-height:17.30px;text-align:center;">556</div>
<div class="t n" style="left:431.90px;top:330.30px;width:25.85px;height:17.30px;line-height:17.30px;text-align:center;">570</div>
<div class="t n" style="left:457.75px;top:330.30px;width:26.00px;height:17.30px;line-height:17.30px;text-align:center;">555</div>
<div class="t n" style="left:483.75px;top:330.30px;width:26.00px;height:17.30px;line-height:17.30px;text-align:center;">561</div>
<div class="t n" style="left:509.75px;top:330.30px;width:26.15px;height:17.30px;line-height:17.30px;text-align:center;">576</div>
<div class="t n" style="left:535.90px;top:330.30px;width:26.20px;height:17.30px;line-height:17.30px;text-align:center;">536</div>
<div class="t n" style="left:562.10px;top:330.30px;width:26.00px;height:17.30px;line-height:17.30px;text-align:center;">587</div>
<div class="t n" style="left:588.10px;top:330.30px;width:26.30px;height:17.30px;line-height:17.30px;text-align:center;">19</div>
<div class="t n" style="left:614.40px;top:330.30px;width:26.20px;height:17.30px;line-height:17.30px;text-align:center;">31</div>
<div class="t n" style="left:640.60px;top:330.30px;width:25.80px;height:17.30px;line-height:17.30px;text-align:center;">46</div>
<div class="t n" style="left:666.40px;top:330.30px;width:26.10px;height:17.30px;line-height:17.30px;text-align:center;">31</div>
<div class="t n" style="left:692.50px;top:330.30px;width:26.25px;height:17.30px;line-height:17.30px;text-align:center;">36</div>
<div class="t n" style="left:718.75px;top:330.30px;width:26.25px;height:17.30px;line-height:17.30px;text-align:center;">31</div>
<div class="t n" style="left:745.00px;top:330.30px;width:25.90px;height:17.30px;line-height:17.30px;text-align:center;">36</div>
<div class="t n" style="left:770.90px;top:330.30px;width:25.60px;height:17.30px;line-height:17.30px;text-align:center;">51</div>
<div class="t pv" style="left:3.00px;top:346.60px;width:25.00px;height:17.00px;line-height:17.00px;text-align:center;">四川</div>
<div class="t n" style="left:28.30px;top:347.60px;width:36.10px;height:17.00px;line-height:17.00px;text-align:center;">32</div>
<div class="t n" style="left:64.40px;top:347.60px;width:35.35px;height:17.00px;line-height:17.00px;text-align:center;">32</div>
<div class="t n" style="left:99.75px;top:347.60px;width:34.85px;height:17.00px;line-height:17.00px;text-align:center;">31</div>
<div class="t n" style="left:134.60px;top:347.60px;width:36.00px;height:17.00px;line-height:17.00px;text-align:center;">23</div>
<div class="t n" style="left:170.60px;top:347.60px;width:25.70px;height:17.00px;line-height:17.00px;text-align:center;">511</div>
<div class="t n" style="left:196.30px;top:347.60px;width:26.20px;height:17.00px;line-height:17.00px;text-align:center;">537</div>
<div class="t n" style="left:222.50px;top:347.60px;width:26.50px;height:17.00px;line-height:17.00px;text-align:center;">546</div>
<div class="t n" style="left:249.00px;top:347.60px;width:25.40px;height:17.00px;line-height:17.00px;text-align:center;">553</div>
<div class="t n" style="left:274.40px;top:347.60px;width:26.50px;height:17.00px;line-height:17.00px;text-align:center;">547</div>
<div class="t n" style="left:300.90px;top:347.60px;width:26.00px;height:17.00px;line-height:17.00px;text-align:center;">540</div>
<div class="t n" style="left:326.90px;top:347.60px;width:26.20px;height:17.00px;line-height:17.00px;text-align:center;">529</div>
<div class="t n" style="left:353.10px;top:347.60px;width:26.30px;height:17.00px;line-height:17.00px;text-align:center;">527</div>
<div class="t n" style="left:379.40px;top:347.60px;width:26.20px;height:17.00px;line-height:17.00px;text-align:center;">555</div>
<div class="t n" style="left:405.60px;top:347.60px;width:26.30px;height:17.00px;line-height:17.00px;text-align:center;">572</div>
<div class="t n" style="left:431.90px;top:347.60px;width:25.85px;height:17.00px;line-height:17.00px;text-align:center;">598</div>
<div class="t n" style="left:457.75px;top:347.60px;width:26.00px;height:17.00px;line-height:17.00px;text-align:center;">585</div>
<div class="t n" style="left:483.75px;top:347.60px;width:26.00px;height:17.00px;line-height:17.00px;text-align:center;">602</div>
<div class="t n" style="left:509.75px;top:347.60px;width:26.15px;height:17.00px;line-height:17.00px;text-align:center;">584</div>
<div class="t n" style="left:535.90px;top:347.60px;width:26.20px;height:17.00px;line-height:17.00px;text-align:center;">584</div>
<div class="t n" style="left:562.10px;top:347.60px;width:26.00px;height:17.00px;line-height:17.00px;text-align:center;">581</div>
<div class="t n" style="left:588.10px;top:347.60px;width:26.30px;height:17.00px;line-height:17.00px;text-align:center;">44</div>
<div class="t n" style="left:614.40px;top:347.60px;width:26.20px;height:17.00px;line-height:17.00px;text-align:center;">35</div>
<div class="t n" style="left:640.60px;top:347.60px;width:25.80px;height:17.00px;line-height:17.00px;text-align:center;">52</div>
<div class="t n" style="left:666.40px;top:347.60px;width:26.10px;height:17.00px;line-height:17.00px;text-align:center;">32</div>
<div class="t n" style="left:692.50px;top:347.60px;width:26.25px;height:17.00px;line-height:17.00px;text-align:center;">55</div>
<div class="t n" style="left:718.75px;top:347.60px;width:26.25px;height:17.00px;line-height:17.00px;text-align:center;">44</div>
<div class="t n" style="left:745.00px;top:347.60px;width:25.90px;height:17.00px;line-height:17.00px;text-align:center;">55</div>
<div class="t n" style="left:770.90px;top:347.60px;width:25.60px;height:17.00px;line-height:17.00px;text-align:center;">54</div>
<div class="t pv" style="left:3.00px;top:363.60px;width:25.00px;height:18.40px;line-height:18.40px;text-align:center;">贵州</div>
<div class="t n" style="left:28.30px;top:364.60px;width:36.10px;height:18.40px;line-height:18.40px;text-align:center;">16</div>
<div class="t n" style="left:134.60px;top:364.60px;width:36.00px;height:18.40px;line-height:18.40px;text-align:center;">10</div>
<div class="t n" style="left:170.60px;top:364.60px;width:25.70px;height:18.40px;line-height:18.40px;text-align:center;">456</div>
<div class="t n" style="left:326.90px;top:364.60px;width:26.20px;height:18.40px;line-height:18.40px;text-align:center;">480</div>
<div class="t n" style="left:353.10px;top:364.60px;width:26.30px;height:18.40px;line-height:18.40px;text-align:center;">548</div>
<div class="t n" style="left:379.40px;top:364.60px;width:26.20px;height:18.40px;line-height:18.40px;text-align:center;">549</div>
<div class="t n" style="left:535.90px;top:364.60px;width:26.20px;height:18.40px;line-height:18.40px;text-align:center;">520</div>
<div class="t n" style="left:588.10px;top:364.60px;width:26.30px;height:18.40px;line-height:18.40px;text-align:center;">34</div>
<div class="t n" style="left:745.00px;top:364.60px;width:25.90px;height:18.40px;line-height:18.40px;text-align:center;">40</div>
<div class="t pv" style="left:3.00px;top:382.00px;width:25.00px;height:17.90px;line-height:17.90px;text-align:center;">云南</div>
<div class="t n" style="left:64.40px;top:383.00px;width:35.35px;height:17.90px;line-height:17.90px;text-align:center;">9</div>
<div class="t n" style="left:99.75px;top:383.00px;width:34.85px;height:17.90px;line-height:17.90px;text-align:center;">6</div>
<div class="t n" style="left:134.60px;top:383.00px;width:36.00px;height:17.90px;line-height:17.90px;text-align:center;">10</div>
<div class="t n" style="left:222.50px;top:383.00px;width:26.50px;height:17.90px;line-height:17.90px;text-align:center;">530</div>
<div class="t n" style="left:249.00px;top:383.00px;width:25.40px;height:17.90px;line-height:17.90px;text-align:center;">575</div>
<div class="t n" style="left:274.40px;top:383.00px;width:26.50px;height:17.90px;line-height:17.90px;text-align:center;">535</div>
<div class="t n" style="left:300.90px;top:383.00px;width:26.00px;height:17.90px;line-height:17.90px;text-align:center;">560</div>
<div class="t n" style="left:326.90px;top:383.00px;width:26.20px;height:17.90px;line-height:17.90px;text-align:center;">535</div>
<div class="t n" style="left:353.10px;top:383.00px;width:26.30px;height:17.90px;line-height:17.90px;text-align:center;">555</div>
<div class="t n" style="left:431.90px;top:383.00px;width:25.85px;height:17.90px;line-height:17.90px;text-align:center;">602</div>
<div class="t n" style="left:457.75px;top:383.00px;width:26.00px;height:17.90px;line-height:17.90px;text-align:center;">609</div>
<div class="t n" style="left:483.75px;top:383.00px;width:26.00px;height:17.90px;line-height:17.90px;text-align:center;">536</div>
<div class="t n" style="left:509.75px;top:383.00px;width:26.15px;height:17.90px;line-height:17.90px;text-align:center;">602</div>
<div class="t n" style="left:535.90px;top:383.00px;width:26.20px;height:17.90px;line-height:17.90px;text-align:center;">565</div>
<div class="t n" style="left:562.10px;top:383.00px;width:26.00px;height:17.90px;line-height:17.90px;text-align:center;">600</div>
<div class="t n" style="left:640.60px;top:383.00px;width:25.80px;height:17.90px;line-height:17.90px;text-align:center;">72</div>
<div class="t n" style="left:666.40px;top:383.00px;width:26.10px;height:17.90px;line-height:17.90px;text-align:center;">34</div>
<div class="t n" style="left:692.50px;top:383.00px;width:26.25px;height:17.90px;line-height:17.90px;text-align:center;">1</div>
<div class="t n" style="left:718.75px;top:383.00px;width:26.25px;height:17.90px;line-height:17.90px;text-align:center;">42</div>
<div class="t n" style="left:745.00px;top:383.00px;width:25.90px;height:17.90px;line-height:17.90px;text-align:center;">30</div>
<div class="t n" style="left:770.90px;top:383.00px;width:25.60px;height:17.90px;line-height:17.90px;text-align:center;">45</div>
<div class="t pv" style="left:3.00px;top:399.90px;width:25.00px;height:17.90px;line-height:17.90px;text-align:center;">陕西</div>
<div class="t n" style="left:64.40px;top:400.90px;width:35.35px;height:17.90px;line-height:17.90px;text-align:center;">9</div>
<div class="t n" style="left:99.75px;top:400.90px;width:34.85px;height:17.90px;line-height:17.90px;text-align:center;">8</div>
<div class="t n" style="left:134.60px;top:400.90px;width:36.00px;height:17.90px;line-height:17.90px;text-align:center;">8</div>
<div class="t n" style="left:222.50px;top:400.90px;width:26.50px;height:17.90px;line-height:17.90px;text-align:center;">474</div>
<div class="t n" style="left:249.00px;top:400.90px;width:25.40px;height:17.90px;line-height:17.90px;text-align:center;">518</div>
<div class="t n" style="left:274.40px;top:400.90px;width:26.50px;height:17.90px;line-height:17.90px;text-align:center;">468</div>
<div class="t n" style="left:300.90px;top:400.90px;width:26.00px;height:17.90px;line-height:17.90px;text-align:center;">518</div>
<div class="t n" style="left:326.90px;top:400.90px;width:26.20px;height:17.90px;line-height:17.90px;text-align:center;">451</div>
<div class="t n" style="left:353.10px;top:400.90px;width:26.30px;height:17.90px;line-height:17.90px;text-align:center;">512</div>
<div class="t n" style="left:431.90px;top:400.90px;width:25.85px;height:17.90px;line-height:17.90px;text-align:center;">574</div>
<div class="t n" style="left:457.75px;top:400.90px;width:26.00px;height:17.90px;line-height:17.90px;text-align:center;">603</div>
<div class="t n" style="left:483.75px;top:400.90px;width:26.00px;height:17.90px;line-height:17.90px;text-align:center;">540</div>
<div class="t n" style="left:535.90px;top:400.90px;width:26.20px;height:17.90px;line-height:17.90px;text-align:center;">535</div>
<div class="t n" style="left:640.60px;top:400.90px;width:25.80px;height:17.90px;line-height:17.90px;text-align:center;">100</div>
<div class="t n" style="left:666.40px;top:400.90px;width:26.10px;height:17.90px;line-height:17.90px;text-align:center;">85</div>
<div class="t n" style="left:692.50px;top:400.90px;width:26.25px;height:17.90px;line-height:17.90px;text-align:center;">72</div>
<div class="t n" style="left:745.00px;top:400.90px;width:25.90px;height:17.90px;line-height:17.90px;text-align:center;">84</div>
</div><svg id="g2" width="800" height="421"><g opacity="0.5"><path d="M28.30 24.40H796.50 M170.60 41.40H796.50 M2.85 58.30H796.50 M28.30 7.40V58.30 M64.40 24.40V58.30 M99.75 24.40V58.30 M134.60 24.40V58.30 M170.60 7.40V58.30 M170.60 7.40V58.30 M196.30 41.40V58.30 M222.50 24.40V58.30 M249.00 41.40V58.30 M274.40 24.40V58.30 M300.90 41.40V58.30 M326.90 24.40V58.30 M353.10 41.40V58.30 M379.40 7.40V58.30 M405.60 41.40V58.30 M431.90 24.40V58.30 M457.75 41.40V58.30 M483.75 24.40V58.30 M509.75 41.40V58.30 M535.90 24.40V58.30 M562.10 41.40V58.30 M588.10 7.40V58.30 M614.40 41.40V58.30 M640.60 24.40V58.30 M666.40 41.40V58.30 M692.50 24.40V58.30 M718.75 41.40V58.30 M745.00 24.40V58.30 M770.90 41.40V58.30 M2.85 76.40H796.50 M2.85 95.10H796.50 M2.85 112.60H796.50 M2.85 131.20H796.50 M2.85 149.30H796.50 M2.85 167.10H796.50 M2.85 185.10H796.50 M2.85 203.10H796.50 M2.85 220.60H796.50 M2.85 239.26H796.50 M2.85 256.30H796.50 M2.85 274.60H796.50 M2.85 292.40H796.50 M2.85 310.60H796.50 M2.85 328.80H796.50 M2.85 346.10H796.50 M2.85 363.10H796.50 M2.85 381.50H796.50 M2.85 399.40H796.50 M28.30 58.30V76.40 M64.40 58.30V76.40 M99.75 58.30V76.40 M134.60 58.30V76.40 M170.60 58.30V76.40 M196.30 58.30V76.40 M222.50 58.30V76.40 M249.00 58.30V76.40 M274.40 58.30V76.40 M300.90 58.30V76.40 M326.90 58.30V76.40 M379.40 58.30V76.40 M405.60 58.30V76.40 M431.90 58.30V76.40 M457.75 58.30V76.40 M483.75 58.30V76.40 M509.75 58.30V76.40 M535.90 58.30V76.40 M562.10 58.30V76.40 M588.10 58.30V76.40 M614.40 58.30V76.40 M640.60 58.30V76.40 M666.40 58.30V76.40 M692.50 58.30V76.40 M718.75 58.30V76.40 M745.00 58.30V76.40 M770.90 58.30V76.40 M28.30 76.40V95.10 M64.40 76.40V95.10 M99.75 76.40V95.10 M134.60 76.40V95.10 M170.60 76.40V95.10 M196.30 76.40V95.10 M222.50 76.40V95.10 M249.00 76.40V95.10 M274.40 76.40V95.10 M300.90 76.40V95.10 M326.90 76.40V95.10 M353.10 76.40V95.10 M379.40 76.40V95.10 M405.60 76.40V95.10 M431.90 76.40V95.10 M457.75 76.40V95.10 M483.75 76.40V95.10 M509.75 76.40V95.10 M535.90 76.40V95.10 M562.10 76.40V95.10 M588.10 76.40V95.10 M614.40 76.40V95.10 M640.60 76.40V95.10 M666.40 76.40V95.10 M692.50 76.40V95.10 M718.75 76.40V95.10 M745.00 76.40V95.10 M770.90 76.40V95.10 M28.30 95.10V112.60 M64.40 95.10V112.60 M99.75 95.10V112.60 M134.60 95.10V112.60 M170.60 95.10V112.60 M196.30 95.10V112.60 M222.50 95.10V112.60 M249.00 95.10V112.60 M274.40 95.10V112.60 M300.90 95.10V112.60 M326.90 95.10V112.60 M353.10 95.10V112.60 M379.40 95.10V112.60 M405.60 95.10V112.60 M431.90 95.10V112.60 M457.75 95.10V112.60 M483.75 95.10V112.60 M509.75 95.10V112.60 M535.90 95.10V112.60 M562.10 95.10V112.60 M588.10 95.10V112.60 M614.40 95.10V112.60 M640.60 95.10V112.60 M666.40 95.10V112.60 M692.50 95.10V112.60 M718.75 95.10V112.60 M745.00 95.10V112.60 M770.90 95.10V112.60 M28.30 112.60V131.20 M64.40 112.60V131.20 M99.75 112.60V131.20 M134.60 112.60V131.20 M170.60 112.60V131.20 M196.30 112.60V131.20 M222.50 112.60V131.20 M249.00 112.60V131.20 M274.40 112.60V131.20 M300.90 112.60V131.20 M326.90 112.60V131.20 M353.10 112.60V131.20 M379.40 112.60V131.20 M405.60 112.60V131.20 M431.90 112.60V131.20 M457.75 112.60V131.20 M483.75 112.60V131.20 M509.75 112.60V131.20 M535.90 112.60V131.20 M562.10 112.60V131.20 M588.10 112.60V131.20 M614.40 112.60V131.20 M640.60 112.60V131.20 M666.40 112.60V131.20 M692.50 112.60V131.20 M718.75 112.60V131.20 M745.00 112.60V131.20 M770.90 112.60V131.20 M28.30 131.20V149.30 M64.40 131.20V149.30 M99.75 131.20V149.30 M134.60 131.20V149.30 M170.60 131.20V149.30 M196.30 131.20V149.30 M222.50 131.20V149.30 M249.00 131.20V149.30 M274.40 131.20V149.30 M300.90 131.20V149.30 M326.90 131.20V149.30 M353.10 131.20V149.30 M379.40 131.20V149.30 M405.60 131.20V149.30 M431.90 131.20V149.30 M457.75 131.20V149.30 M483.75 131.20V149.30 M509.75 131.20V149.30 M535.90 131.20V149.30 M562.10 131.20V149.30 M588.10 131.20V149.30 M614.40 131.20V149.30 M640.60 131.20V149.30 M666.40 131.20V149.30 M692.50 131.20V149.30 M718.75 131.20V149.30 M745.00 131.20V149.30 M770.90 131.20V149.30 M28.30 149.30V167.10 M64.40 149.30V167.10 M99.75 149.30V167.10 M134.60 149.30V167.10 M170.60 149.30V167.10 M196.30 149.30V167.10 M222.50 149.30V167.10 M249.00 149.30V167.10 M274.40 149.30V167.10 M300.90 149.30V167.10 M326.90 149.30V167.10 M353.10 149.30V167.10 M379.40 149.30V167.10 M405.60 149.30V167.10 M431.90 149.30V167.10 M457.75 149.30V167.10 M483.75 149.30V167.10 M509.75 149.30V167.10 M535.90 149.30V167.10 M562.10 149.30V167.10 M588.10 149.30V167.10 M614.40 149.30V167.10 M640.60 149.30V167.10 M666.40 149.30V167.10 M692.50 149.30V167.10 M718.75 149.30V167.10 M745.00 149.30V167.10 M770.90 149.30V167.10 M28.30 167.10V185.10 M64.40 167.10V185.10 M99.75 167.10V185.10 M134.60 167.10V185.10 M170.60 167.10V185.10 M222.50 167.10V185.10 M274.40 167.10V185.10 M326.90 167.10V185.10 M379.40 167.10V185.10 M405.60 167.10V185.10 M431.90 167.10V185.10 M457.75 167.10V185.10 M483.75 167.10V185.10 M509.75 167.10V185.10 M535.90 167.10V185.10 M562.10 167.10V185.10 M588.10 167.10V185.10 M614.40 167.10V185.10 M640.60 167.10V185.10 M666.40 167.10V185.10 M692.50 167.10V185.10 M718.75 167.10V185.10 M745.00 167.10V185.10 M770.90 167.10V185.10 M28.30 185.10V203.10 M64.40 185.10V203.10 M99.75 185.10V203.10 M134.60 185.10V203.10 M170.60 185.10V203.10 M196.30 185.10V203.10 M222.50 185.10V203.10 M249.00 185.10V203.10 M274.40 185.10V203.10 M300.90 185.10V203.10 M326.90 185.10V203.10 M353.10 185.10V203.10 M379.40 185.10V203.10 M405.60 185.10V203.10 M431.90 185.10V203.10 M457.75 185.10V203.10 M483.75 185.10V203.10 M509.75 185.10V203.10 M535.90 185.10V203.10 M562.10 185.10V203.10 M588.10 185.10V203.10 M614.40 185.10V203.10 M640.60 185.10V203.10 M666.40 185.10V203.10 M692.50 185.10V203.10 M718.75 185.10V203.10 M745.00 185.10V203.10 M770.90 185.10V203.10 M28.30 203.10V220.60 M64.40 203.10V220.60 M99.75 203.10V220.60 M134.60 203.10V220.60 M170.60 203.10V220.60 M196.30 203.10V220.60 M222.50 203.10V220.60 M249.00 203.10V220.60 M274.40 203.10V220.60 M300.90 203.10V220.60 M326.90 203.10V220.60 M353.10 203.10V220.60 M379.40 203.10V220.60 M405.60 203.10V220.60 M431.90 203.10V220.60 M457.75 203.10V220.60 M483.75 203.10V220.60 M509.75 203.10V220.60 M535.90 203.10V220.60 M562.10 203.10V220.60 M588.10 203.10V220.60 M614.40 203.10V220.60 M640.60 203.10V220.60 M666.40 203.10V220.60 M692.50 203.10V220.60 M718.75 203.10V220.60 M745.00 203.10V220.60 M770.90 203.10V220.60 M28.30 220.60V239.26 M64.40 220.60V239.26 M99.75 220.60V239.26 M134.60 220.60V239.26 M170.60 220.60V239.26 M196.30 220.60V239.26 M222.50 220.60V239.26 M249.00 220.60V239.26 M274.40 220.60V239.26 M300.90 220.60V239.26 M326.90 220.60V239.26 M379.40 220.60V239.26 M405.60 220.60V239.26 M431.90 220.60V239.26 M457.75 220.60V239.26 M483.75 220.60V239.26 M509.75 220.60V239.26 M535.90 220.60V239.26 M562.10 220.60V239.26 M588.10 220.60V239.26 M614.40 220.60V239.26 M640.60 220.60V239.26 M666.40 220.60V239.26 M692.50 220.60V239.26 M718.75 220.60V239.26 M745.00 220.60V239.26 M770.90 220.60V239.26 M28.30 239.26V256.30 M64.40 239.26V256.30 M99.75 239.26V256.30 M134.60 239.26V256.30 M170.60 239.26V256.30 M196.30 239.26V256.30 M222.50 239.26V256.30 M249.00 239.26V256.30 M274.40 239.26V256.30 M300.90 239.26V256.30 M326.90 239.26V256.30 M353.10 239.26V256.30 M379.40 239.26V256.30 M405.60 239.26V256.30 M431.90 239.26V256.30 M457.75 239.26V256.30 M483.75 239.26V256.30 M509.75 239.26V256.30 M535.90 239.26V256.30 M562.10 239.26V256.30 M588.10 239.26V256.30 M614.40 239.26V256.30 M640.60 239.26V256.30 M666.40 239.26V256.30 M692.50 239.26V256.30 M718.75 239.26V256.30 M745.00 239.26V256.30 M770.90 239.26V256.30 M28.30 256.30V274.60 M64.40 256.30V274.60 M99.75 256.30V274.60 M134.60 256.30V274.60 M170.60 256.30V274.60 M196.30 256.30V274.60 M222.50 256.30V274.60 M249.00 256.30V274.60 M274.40 256.30V274.60 M300.90 256.30V274.60 M326.90 256.30V274.60 M353.10 256.30V274.60 M379.40 256.30V274.60 M405.60 256.30V274.60 M431.90 256.30V274.60 M457.75 256.30V274.60 M483.75 256.30V274.60 M509.75 256.30V274.60 M535.90 256.30V274.60 M562.10 256.30V274.60 M588.10 256.30V274.60 M614.40 256.30V274.60 M640.60 256.30V274.60 M666.40 256.30V274.60 M692.50 256.30V274.60 M718.75 256.30V274.60 M745.00 256.30V274.60 M770.90 256.30V274.60 M28.30 274.60V292.40 M64.40 274.60V292.40 M99.75 274.60V292.40 M134.60 274.60V292.40 M170.60 274.60V292.40 M196.30 274.60V292.40 M222.50 274.60V292.40 M249.00 274.60V292.40 M274.40 274.60V292.40 M300.90 274.60V292.40 M326.90 274.60V292.40 M353.10 274.60V292.40 M379.40 274.60V292.40 M405.60 274.60V292.40 M431.90 274.60V292.40 M457.75 274.60V292.40 M483.75 274.60V292.40 M509.75 274.60V292.40 M535.90 274.60V292.40 M562.10 274.60V292.40 M588.10 274.60V292.40 M614.40 274.60V292.40 M640.60 274.60V292.40 M666.40 274.60V292.40 M692.50 274.60V292.40 M718.75 274.60V292.40 M745.00 274.60V292.40 M770.90 274.60V292.40 M28.30 292.40V310.60 M64.40 292.40V310.60 M99.75 292.40V310.60 M134.60 292.40V310.60 M170.60 292.40V310.60 M196.30 292.40V310.60 M222.50 292.40V310.60 M249.00 292.40V310.60 M274.40 292.40V310.60 M300.90 292.40V310.60 M326.90 292.40V310.60 M353.10 292.40V310.60 M379.40 292.40V310.60 M405.60 292.40V310.60 M431.90 292.40V310.60 M457.75 292.40V310.60 M483.75 292.40V310.60 M509.75 292.40V310.60 M535.90 292.40V310.60 M562.10 292.40V310.60 M588.10 292.40V310.60 M614.40 292.40V310.60 M640.60 292.40V310.60 M666.40 292.40V310.60 M692.50 292.40V310.60 M718.75 292.40V310.60 M745.00 292.40V310.60 M770.90 292.40V310.60 M28.30 310.60V328.80 M64.40 310.60V328.80 M99.75 310.60V328.80 M134.60 310.60V328.80 M170.60 310.60V328.80 M196.30 310.60V328.80 M222.50 310.60V328.80 M249.00 310.60V328.80 M274.40 310.60V328.80 M300.90 310.60V328.80 M326.90 310.60V328.80 M353.10 310.60V328.80 M379.40 310.60V328.80 M405.60 310.60V328.80 M431.90 310.60V328.80 M457.75 310.60V328.80 M483.75 310.60V328.80 M509.75 310.60V328.80 M535.90 310.60V328.80 M562.10 310.60V328.80 M588.10 310.60V328.80 M614.40 310.60V328.80 M640.60 310.60V328.80 M666.40 310.60V328.80 M692.50 310.60V328.80 M718.75 310.60V328.80 M745.00 310.60V328.80 M770.90 310.60V328.80 M28.30 328.80V346.10 M64.40 328.80V346.10 M99.75 328.80V346.10 M134.60 328.80V346.10 M170.60 328.80V346.10 M196.30 328.80V346.10 M222.50 328.80V346.10 M249.00 328.80V346.10 M274.40 328.80V346.10 M300.90 328.80V346.10 M326.90 328.80V346.10 M353.10 328.80V346.10 M379.40 328.80V346.10 M405.60 328.80V346.10 M431.90 328.80V346.10 M457.75 328.80V346.10 M483.75 328.80V346.10 M509.75 328.80V346.10 M535.90 328.80V346.10 M562.10 328.80V346.10 M588.10 328.80V346.10 M614.40 328.80V346.10 M640.60 328.80V346.10 M666.40 328.80V346.10 M692.50 328.80V346.10 M718.75 328.80V346.10 M745.00 328.80V346.10 M770.90 328.80V346.10 M28.30 346.10V363.10 M64.40 346.10V363.10 M99.75 346.10V363.10 M134.60 346.10V363.10 M170.60 346.10V363.10 M196.30 346.10V363.10 M222.50 346.10V363.10 M249.00 346.10V363.10 M274.40 346.10V363.10 M300.90 346.10V363.10 M326.90 346.10V363.10 M353.10 346.10V363.10 M379.40 346.10V363.10 M405.60 346.10V363.10 M431.90 346.10V363.10 M457.75 346.10V363.10 M483.75 346.10V363.10 M509.75 346.10V363.10 M535.90 346.10V363.10 M562.10 346.10V363.10 M588.10 346.10V363.10 M614.40 346.10V363.10 M640.60 346.10V363.10 M666.40 346.10V363.10 M692.50 346.10V363.10 M718.75 346.10V363.10 M745.00 346.10V363.10 M770.90 346.10V363.10 M28.30 363.10V381.50 M64.40 363.10V381.50 M99.75 363.10V381.50 M134.60 363.10V381.50 M170.60 363.10V381.50 M196.30 363.10V381.50 M222.50 363.10V381.50 M249.00 363.10V381.50 M274.40 363.10V381.50 M300.90 363.10V381.50 M326.90 363.10V381.50 M353.10 363.10V381.50 M379.40 363.10V381.50 M405.60 363.10V381.50 M431.90 363.10V381.50 M457.75 363.10V381.50 M483.75 363.10V381.50 M509.75 363.10V381.50 M535.90 363.10V381.50 M562.10 363.10V381.50 M588.10 363.10V381.50 M614.40 363.10V381.50 M640.60 363.10V381.50 M666.40 363.10V381.50 M692.50 363.10V381.50 M718.75 363.10V381.50 M745.00 363.10V381.50 M770.90 363.10V381.50 M28.30 381.50V399.40 M64.40 381.50V399.40 M99.75 381.50V399.40 M134.60 381.50V399.40 M170.60 381.50V399.40 M196.30 381.50V399.40 M222.50 381.50V399.40 M249.00 381.50V399.40 M274.40 381.50V399.40 M300.90 381.50V399.40 M326.90 381.50V399.40 M353.10 381.50V399.40 M379.40 381.50V399.40 M405.60 381.50V399.40 M431.90 381.50V399.40 M457.75 381.50V399.40 M483.75 381.50V399.40 M509.75 381.50V399.40 M535.90 381.50V399.40 M562.10 381.50V399.40 M588.10 381.50V399.40 M614.40 381.50V399.40 M640.60 381.50V399.40 M666.40 381.50V399.40 M692.50 381.50V399.40 M718.75 381.50V399.40 M745.00 381.50V399.40 M770.90 381.50V399.40 M28.30 399.40V417.30 M64.40 399.40V417.30 M99.75 399.40V417.30 M134.60 399.40V417.30 M170.60 399.40V417.30 M196.30 399.40V417.30 M222.50 399.40V417.30 M249.00 399.40V417.30 M274.40 399.40V417.30 M300.90 399.40V417.30 M326.90 399.40V417.30 M353.10 399.40V417.30 M379.40 399.40V417.30 M405.60 399.40V417.30 M431.90 399.40V417.30 M457.75 399.40V417.30 M483.75 399.40V417.30 M509.75 399.40V417.30 M535.90 399.40V417.30 M562.10 399.40V417.30 M588.10 399.40V417.30 M614.40 399.40V417.30 M640.60 399.40V417.30 M666.40 399.40V417.30 M692.50 399.40V417.30 M718.75 399.40V417.30 M745.00 399.40V417.30 M770.90 399.40V417.30" stroke="#000" stroke-width="1.2" fill="none"/></g><g opacity="0.62"><path d="M796.5 7.4V417.3M2.85 417.3H797.1" stroke="#000" stroke-width="1.3" fill="none"/></g></svg></body></html>
